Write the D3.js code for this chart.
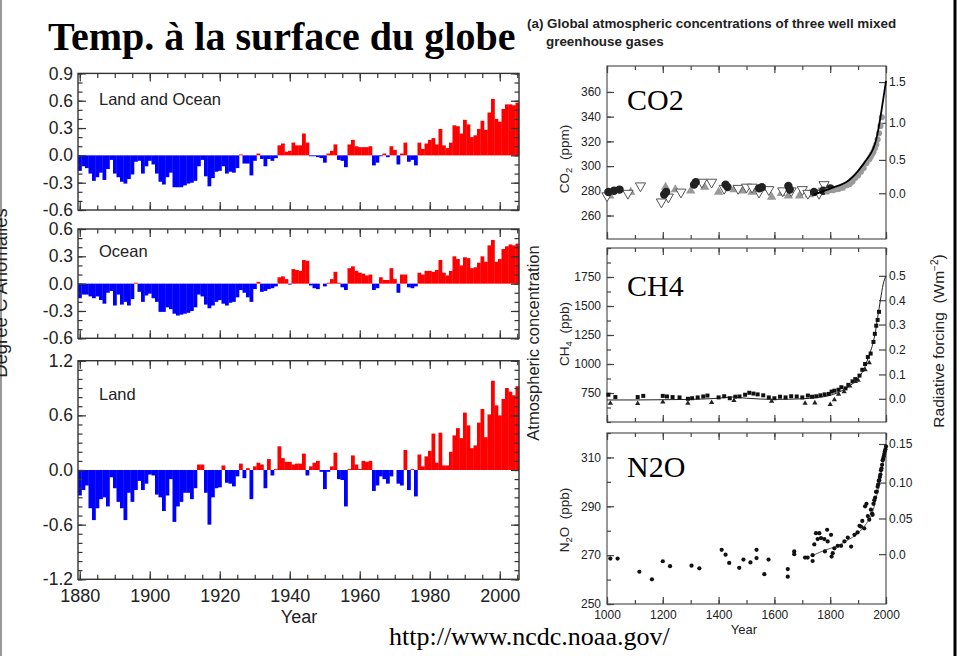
<!DOCTYPE html>
<html>
<head>
<meta charset="utf-8">
<script src="https://cdn.jsdelivr.net/npm/d3@7"></script>
<style>
  body { margin: 0; background: #fff; }
  svg { display: block; font-family: "Liberation Sans", Arial, sans-serif; }
  .serif { font-family: "Liberation Serif", "Times New Roman", serif; }
</style>
</head>
<body>
<div id="chart"></div>
<script>
// ---- temperature anomalies (deg C), one value per year 1880..2005
var years = d3.range(1880, 2006);

var landOcean = [
  -0.17,-0.12,-0.14,-0.20,-0.28,-0.24,-0.19,-0.27,-0.15,-0.05,
  -0.20,-0.24,-0.29,-0.31,-0.26,-0.21,-0.07,-0.06,-0.20,-0.12,
  -0.06,-0.10,-0.20,-0.29,-0.32,-0.24,-0.19,-0.35,-0.35,-0.35,
  -0.33,-0.31,-0.30,-0.28,-0.12,-0.05,-0.23,-0.34,-0.25,-0.18,
  -0.17,-0.12,-0.20,-0.18,-0.19,-0.14,0.01,-0.09,-0.09,-0.22,
  -0.06,0.02,-0.04,-0.12,-0.04,-0.06,-0.03,0.11,0.13,0.04,
  0.05,0.14,0.11,0.11,0.24,0.14,-0.01,-0.01,-0.02,-0.03,
  -0.08,0.02,0.05,0.12,-0.05,-0.06,-0.13,0.12,0.17,0.10,
  0.09,0.09,0.09,0.10,-0.11,-0.08,-0.01,0.02,-0.02,0.10,
  0.06,-0.10,0.02,0.14,-0.07,-0.05,-0.11,0.14,0.07,0.13,
  0.17,0.19,0.12,0.29,0.11,0.08,0.14,0.33,0.32,0.24,
  0.39,0.34,0.20,0.22,0.29,0.38,0.28,0.47,0.62,0.40,
  0.37,0.51,0.56,0.56,0.55,0.58
];

var ocean = [
  -0.16,-0.12,-0.12,-0.14,-0.16,-0.14,-0.18,-0.22,-0.10,-0.08,
  -0.24,-0.12,-0.23,-0.20,-0.24,-0.17,0.01,-0.09,-0.20,-0.13,
  -0.11,-0.16,-0.20,-0.31,-0.31,-0.26,-0.28,-0.33,-0.35,-0.34,
  -0.33,-0.32,-0.30,-0.26,-0.12,-0.14,-0.23,-0.27,-0.24,-0.20,
  -0.18,-0.22,-0.24,-0.21,-0.20,-0.15,-0.07,-0.10,-0.15,-0.20,
  -0.06,0.02,-0.09,-0.08,-0.06,-0.05,-0.03,0.07,0.08,0.05,
  -0.01,0.16,0.15,0.14,0.26,0.25,-0.02,-0.05,-0.06,0.00,
  -0.03,0.01,0.05,0.13,0.01,-0.04,-0.07,0.17,0.19,0.14,
  0.12,0.11,0.09,0.10,-0.07,-0.05,0.07,0.04,0.04,0.17,
  0.05,-0.10,0.10,0.10,-0.04,-0.05,-0.03,0.12,0.10,0.14,
  0.14,0.13,0.15,0.26,0.12,0.09,0.14,0.30,0.27,0.20,
  0.29,0.28,0.17,0.18,0.23,0.30,0.24,0.42,0.48,0.24,
  0.27,0.38,0.41,0.43,0.42,0.44
];

var land = [
  -0.28,-0.22,-0.17,-0.42,-0.55,-0.42,-0.32,-0.30,-0.40,-0.08,
  -0.20,-0.35,-0.42,-0.55,-0.25,-0.35,-0.22,-0.12,-0.22,-0.15,
  -0.05,-0.06,-0.27,-0.30,-0.45,-0.28,-0.10,-0.57,-0.40,-0.35,
  -0.25,-0.25,-0.32,-0.20,0.06,0.06,-0.25,-0.60,-0.30,-0.20,
  -0.19,0.05,-0.14,-0.15,-0.18,-0.07,0.07,-0.09,0.02,-0.32,
  0.04,0.08,0.06,-0.20,0.12,-0.06,0.01,0.26,0.13,0.09,
  0.09,0.06,0.07,0.07,0.18,-0.06,0.04,0.08,0.10,-0.02,
  -0.21,-0.02,0.04,0.19,-0.10,-0.11,-0.40,0.01,0.16,0.06,
  0.01,0.10,0.09,0.10,-0.23,-0.17,-0.07,-0.10,-0.15,-0.07,
  0.00,-0.15,-0.17,0.22,-0.22,0.01,-0.29,0.17,0.04,0.15,
  0.21,0.40,0.08,0.41,0.05,0.05,0.20,0.38,0.46,0.35,
  0.63,0.49,0.24,0.27,0.52,0.67,0.36,0.61,0.98,0.71,
  0.60,0.78,0.90,0.86,0.82,0.92
];

var loTicks = [-0.6, -0.3, 0.0, 0.3, 0.6, 0.9];
var oceanTicks = [-0.6, -0.3, 0.0, 0.3, 0.6];
var landTicks = [-1.2, -0.6, 0.0, 0.6, 1.2];
var yearTicks = [1880, 1900, 1920, 1940, 1960, 1980, 2000];

// ---- greenhouse gases, [year, concentration]
var co2Ticks = [260, 280, 300, 320, 340, 360];
var co2Forcing = [0.0, 0.5, 1.0, 1.5];
var co2ForcingAt = [278, 305, 335, 368];
var co2Dark = [[1005,279],[1025,280],[1045,281],[1205,277],[1212,279],[1312,285],[1318,287],[1425,285],[1432,283],
  [1545,282],[1555,283],[1650,284],[1655,281],[1742,279],[1775,280],[1800,282]];
var co2GrayTri = [[1010,276],[1085,279],[1210,283],[1245,281],[1300,280],[1350,283],[1400,279],[1455,281],[1485,280],
  [1520,279],[1560,282],[1590,275],[1625,278],[1650,276],[1690,276],[1725,277],[1760,279],[1790,281],[1810,281]];
var co2OpenTri = [[1000,276],[1075,278],[1120,284],[1195,271],[1220,275],[1265,279],[1340,287],[1375,287],[1420,282],
  [1470,282],[1500,283],[1520,283],[1545,279],[1580,281],[1630,280],[1660,280],[1700,281],[1720,278],[1760,278],[1778,285]];
var co2Gray = [[1790,281],[1810,282],[1830,283],[1845,284],[1860,286],[1870,287],[1880,289],[1890,292],[1900,294],
  [1910,297],[1920,300],[1930,304],[1940,307],[1945,309],[1950,311],[1955,313],[1960,316],[1965,319],[1970,323],
  [1975,328],[1980,334],[1985,341]];
var co2Line = [[1740,277],[1770,279],[1800,282],[1830,284],[1860,287],[1880,291],[1900,296],[1920,302],[1940,308],
  [1950,312],[1960,317],[1970,326],[1980,339],[1990,354],[2000,369]];

var ch4Ticks = [750, 1000, 1250, 1500, 1750];
var ch4Forcing = [0.0, 0.1, 0.2, 0.3, 0.4, 0.5];
var ch4ForcingAt = [700, 910, 1125, 1340, 1550, 1760];
var ch4Squares = [[1005,735],[1030,715],[1110,715],[1130,725],[1200,725],[1215,720],[1235,715],[1260,712],[1290,700],
  [1305,705],[1325,712],[1345,720],[1360,728],[1400,712],[1420,722],[1440,705],[1460,718],[1475,720],[1495,735],
  [1510,752],[1525,745],[1540,738],[1560,730],[1580,712],[1600,705],[1620,718],[1640,712],[1660,722],[1680,720],
  [1700,712],[1720,728],[1735,718],[1750,722],[1765,730],[1780,738],[1795,742],[1805,762],[1815,770],[1830,778],
  [1840,800],[1855,790],[1865,820],[1880,850],[1890,870],[1905,900],[1915,950],[1925,1000],[1935,1060],[1945,1090],
  [1955,1190],[1960,1260],[1965,1330],[1970,1380],[1975,1450]];
var ch4Tri = [[1012,662],[1110,660],[1200,672],[1290,662],[1375,668],[1455,685],[1590,678],[1710,662],[1745,665],
  [1800,650],[1815,692],[1830,740],[1850,760],[1870,810],[1890,850],[1900,860],[1925,950],[1940,1010]];
var ch4Line = [[1000,690],[1100,690],[1200,692],[1300,695],[1400,705],[1450,715],[1500,705],[1600,695],[1700,700],
  [1750,710],[1800,730],[1850,780],[1880,830],[1900,880],[1920,950],[1940,1080],[1950,1150],[1960,1250],
  [1970,1400],[1980,1550],[1990,1690],[2000,1760]];

var n2oTicks = [250, 270, 290, 310];
var n2oForcing = [0.0, 0.05, 0.10, 0.15];
var n2oForcingLabels = ['0.0', '0.05', '0.10', '0.15'];
var n2oForcingAt = [270.4, 285, 299.7, 315.5];
var n2oDots = [[1012,268.6],[1038,268.6],[1116,263.2],[1161,260.1],[1200,267.5],[1226,265.5],[1303,265.7],[1331,264.6],
  [1411,272.2],[1425,270.2],[1438,266.8],[1474,264.8],[1489,268.2],[1514,267],[1536,272.2],[1536,268.8],[1564,262.2],
  [1579,268.2],[1648,264.3],[1648,261.2],[1671,271.5],[1671,270.4],[1710,269],[1719,269],[1737,270],[1737,267.6],
  [1743,274.4],[1749,279],[1755,276.6],[1761,279],[1767,277],[1779,276.6],[1781,271.5],[1789,280.4],[1791,275.6],
  [1803,278.3],[1805,269.4],[1809,270.8],[1815,272.8],[1827,273.8],[1839,273.8],[1851,275.6],[1863,277.2],[1875,273.5],
  [1887,278.3],[1898,279.3],[1905,282],[1910,281.7],[1915,284],[1922,281],[1925,290],[1930,291],[1935,286],[1940,284.5],
  [1946,288.6],[1950,287],[1952,286.5],[1955,291],[1958,292.5],[1961,293.5],[1964,295.9],[1967,296],[1970,298],
  [1972,299],[1974,300.5],[1976,300.7],[1978,302],[1980,303],[1982,304.8],[1984,305.5],[1986,307],[1988,308.8],
  [1990,309.5],[1992,310.5],[1994,311.5],[1996,312.5],[1998,313.3],[2000,314.5]];
var n2oLine = [[1740,270],[1780,272],[1820,273.5],[1860,276],[1900,279],[1930,283],[1950,287],[1970,296],[1990,308],[2000,314]];

var gasYearTicks = [1000, 1200, 1400, 1600, 1800, 2000];

// ------------------------------------------------------------------
var svg = d3.select('#chart').append('svg')
  .attr('width', 960)
  .attr('height', 656);

svg.append('rect').attr('width', 960).attr('height', 656).attr('fill', '#fff');

// slide borders
svg.append('line').attr('x1', 1).attr('x2', 1).attr('y1', 0).attr('y2', 656)
  .attr('stroke', '#777').attr('stroke-width', 1.5);
svg.append('line').attr('x1', 955).attr('x2', 955).attr('y1', 0).attr('y2', 656)
  .attr('stroke', '#000').attr('stroke-width', 3);

svg.append('text').attr('class', 'serif')
  .attr('x', 48).attr('y', 50)
  .style('font-size', '40px').style('font-weight', 'bold')
  .text('Temp. à la surface du globe');

function styleAxis(g, size, color) {
  g.select('.domain').remove();
  g.selectAll('line').attr('stroke', color).attr('stroke-width', 1.2);
  g.selectAll('text').style('font-size', size).attr('fill', '#222')
    .style('font-family', '"Liberation Sans", Arial, sans-serif');
}

// ---- left: temperature bar panels
var xL = d3.scaleLinear().domain([1879.5, 2005.5]).range([78, 519]);
var barW = xL(1881) - xL(1880);

var tempPanels = [
  { values: landOcean, domain: [-0.6, 0.9], range: [210, 73.4], ticks: loTicks, name: 'Land and Ocean', nameY: 105 },
  { values: ocean, domain: [-0.6, 0.6], range: [338.3, 229], ticks: oceanTicks, name: 'Ocean', nameY: 257 },
  { values: land, domain: [-1.2, 1.2], range: [579.3, 360.7], ticks: landTicks, name: 'Land', nameY: 400 }
];

tempPanels.forEach(function(p, k) {
  var y = d3.scaleLinear().domain(p.domain).range(p.range);
  var g = svg.append('g');
  var top = p.range[1], bottom = p.range[0];

  g.selectAll('rect.bar')
    .data(p.values)
    .enter()
    .append('rect')
    .attr('class', 'bar')
    .attr('x', function(d, i) { return xL(years[i] - 0.5); })
    .attr('width', barW + 0.3)
    .attr('y', d => y(Math.max(0, d)))
    .attr('height', d => Math.abs(y(d) - y(0)))
    .attr('fill', d => d >= 0 ? '#ff0000' : '#0000ff');

  var minorY = d3.range(Math.round(p.domain[0] * 10), Math.round(p.domain[1] * 10) + 1).map(d => d / 10);
  var minorX = d3.range(1880, 2006, 5);

  // inward ticks on every side
  g.append('g').attr('transform', 'translate(78,0)')
    .call(d3.axisLeft(y).tickValues(minorY).tickSize(-4.5).tickFormat(''))
    .call(styleAxis, '17px', '#333');
  g.append('g').attr('transform', 'translate(519,0)')
    .call(d3.axisRight(y).tickValues(minorY).tickSize(-4.5).tickFormat(''))
    .call(styleAxis, '17px', '#333');
  g.append('g').attr('transform', 'translate(519,0)')
    .call(d3.axisRight(y).tickValues(p.ticks).tickSize(-8).tickFormat(''))
    .call(styleAxis, '17px', '#333');
  g.append('g').attr('transform', 'translate(78,0)')
    .call(d3.axisLeft(y).tickValues(p.ticks).tickSize(-8).tickPadding(5).tickFormat(d => d.toFixed(1)))
    .call(styleAxis, '17.5px', '#333');

  g.append('g').attr('transform', 'translate(0,' + top + ')')
    .call(d3.axisTop(xL).tickValues(minorX).tickSize(-4.5).tickFormat(''))
    .call(styleAxis, '18px', '#333');
  g.append('g').attr('transform', 'translate(0,' + top + ')')
    .call(d3.axisTop(xL).tickValues(yearTicks).tickSize(-8).tickFormat(''))
    .call(styleAxis, '18px', '#333');
  g.append('g').attr('transform', 'translate(0,' + bottom + ')')
    .call(d3.axisBottom(xL).tickValues(minorX).tickSize(-4.5).tickFormat(''))
    .call(styleAxis, '18px', '#333');
  g.append('g').attr('transform', 'translate(0,' + bottom + ')')
    .call(d3.axisBottom(xL).tickValues(yearTicks).tickSize(-8).tickPadding(10)
      .tickFormat(k === 2 ? d3.format('d') : ''))
    .call(styleAxis, '18px', '#333');

  g.append('rect')
    .attr('x', 78).attr('y', top)
    .attr('width', 441).attr('height', bottom - top)
    .attr('fill', 'none').attr('stroke', '#333').attr('stroke-width', 1.4);

  g.append('text')
    .attr('x', 99).attr('y', p.nameY)
    .style('font-size', '16.5px').attr('fill', '#222')
    .text(p.name);
});

svg.append('text')
  .attr('x', 299).attr('y', 623)
  .attr('text-anchor', 'middle')
  .style('font-size', '18px').attr('fill', '#222')
  .text('Year');

// cut by the slide edge in the original as well
svg.append('text')
  .attr('transform', 'translate(7,293) rotate(-90)')
  .attr('text-anchor', 'middle')
  .style('font-size', '18.5px').attr('fill', '#222')
  .text('Degree C Anomalies');

// ---- right: greenhouse gas panels
svg.append('text')
  .attr('x', 527).attr('y', 28)
  .style('font-size', '13.4px').style('font-weight', 'bold').attr('fill', '#222')
  .text('(a) Global atmospheric concentrations of three well mixed');
svg.append('text')
  .attr('x', 546).attr('y', 46)
  .style('font-size', '13.4px').style('font-weight', 'bold').attr('fill', '#222')
  .text('greenhouse gases');

var xR = d3.scaleLinear().domain([1000, 2000]).range([607, 886]);

var gasPanels = [
  { gas: 'CO2', sub: ['CO', '2', '  (ppm)'], domain: [241, 381], range: [239, 66], ticks: co2Ticks, minor: co2Ticks,
    forcing: co2Forcing, forcingAt: co2ForcingAt, forcingLabels: co2Forcing.map(d => d.toFixed(1)), nameY: 110, labelY: 159 },
  { gas: 'CH4', sub: ['CH', '4', '  (ppb)'], domain: [500, 2000], range: [422, 248], ticks: ch4Ticks, minor: d3.range(500, 2001, 125),
    forcing: ch4Forcing, forcingAt: ch4ForcingAt, forcingLabels: ch4Forcing.map(d => d.toFixed(1)), nameY: 296, labelY: 334 },
  { gas: 'N2O', sub: ['N', '2', 'O  (ppb)'], domain: [250, 320], range: [604, 433], ticks: n2oTicks, minor: d3.range(250, 321, 10),
    forcing: n2oForcing, forcingAt: n2oForcingAt, forcingLabels: n2oForcingLabels, nameY: 477, labelY: 520 }
];

var gasScales = {};

gasPanels.forEach(function(p, k) {
  var y = d3.scaleLinear().domain(p.domain).range(p.range);
  gasScales[p.gas] = y;
  var top = p.range[1], bottom = p.range[0];
  var g = svg.append('g');
  var rf = d3.scaleLinear().domain(p.forcing).range(p.forcingAt.map(y));

  g.append('rect')
    .attr('x', 607).attr('y', top)
    .attr('width', 279).attr('height', bottom - top)
    .attr('fill', 'none').attr('stroke', '#444').attr('stroke-width', 1.1);

  g.append('g').attr('transform', 'translate(607,0)')
    .call(d3.axisLeft(y).tickValues(p.minor).tickSize(-4).tickFormat(''))
    .call(styleAxis, '12px', '#444');
  g.append('g').attr('transform', 'translate(607,0)')
    .call(d3.axisLeft(y).tickValues(p.ticks).tickSize(-7).tickPadding(6).tickFormat(d3.format('d')))
    .call(styleAxis, '12px', '#444');
  g.append('g').attr('transform', 'translate(886,0)')
    .call(d3.axisRight(rf).tickValues(p.forcing).tickSize(-7).tickPadding(3)
      .tickFormat((d, i) => p.forcingLabels[i]))
    .call(styleAxis, '12px', '#444');

  var minorX = d3.range(1000, 2001, 100);
  [top, bottom].forEach(function(edge, j) {
    var ax = j === 0 ? d3.axisTop : d3.axisBottom;
    g.append('g').attr('transform', 'translate(0,' + edge + ')')
      .call(ax(xR).tickValues(minorX).tickSize(-4).tickFormat(''))
      .call(styleAxis, '12px', '#444');
    g.append('g').attr('transform', 'translate(0,' + edge + ')')
      .call(ax(xR).tickValues(gasYearTicks).tickSize(-7).tickPadding(6.5)
        .tickFormat(j === 1 && k === 2 ? d3.format('d') : ''))
      .call(styleAxis, '12px', '#444');
  });

  g.append('text').attr('class', 'serif')
    .attr('x', 627).attr('y', p.nameY)
    .style('font-size', '30px').attr('fill', '#000')
    .text(p.gas);

  var lab = g.append('text')
    .attr('transform', 'translate(569,' + p.labelY + ') rotate(-90)')
    .attr('text-anchor', 'middle')
    .style('font-size', '13.5px').style('white-space', 'pre').attr('fill', '#222');
  lab.append('tspan').text(p.sub[0]);
  lab.append('tspan').attr('dy', 3).style('font-size', '9.5px').text(p.sub[1]);
  lab.append('tspan').attr('dy', -3).text(p.sub[2]);
});

function sym(type, size) { return d3.symbol().type(type).size(size)(); }

// CO2 markers
var yC = gasScales.CO2;
svg.append('g').selectAll('path').data(co2GrayTri).enter().append('path')
  .attr('d', sym(d3.symbolTriangle, 38))
  .attr('transform', d => 'translate(' + xR(d[0]) + ',' + yC(d[1]) + ')')
  .attr('fill', '#999');
svg.append('g').selectAll('path').data(co2OpenTri).enter().append('path')
  .attr('d', sym(d3.symbolTriangle, 45))
  .attr('transform', d => 'translate(' + xR(d[0]) + ',' + yC(d[1]) + ') rotate(180)')
  .attr('fill', '#fff').attr('stroke', '#555').attr('stroke-width', 1);
svg.append('g').selectAll('path').data(co2Dark).enter().append('path')
  .attr('d', sym(d3.symbolCircle, 55))
  .attr('transform', d => 'translate(' + xR(d[0]) + ',' + yC(d[1]) + ')')
  .attr('fill', '#222');
svg.append('g').selectAll('path').data(co2Gray).enter().append('path')
  .attr('d', sym(d3.symbolCircle, 30))
  .attr('transform', d => 'translate(' + xR(d[0]) + ',' + yC(d[1] - 1.5) + ')')
  .attr('fill', '#9a9a9a');
svg.append('path').datum(co2Line)
  .attr('d', d3.line().x(d => xR(d[0])).y(d => yC(d[1])).curve(d3.curveBasis))
  .attr('fill', 'none').attr('stroke', '#000').attr('stroke-width', 1.8);

// CH4 markers
var yM = gasScales.CH4;
svg.append('path').datum(ch4Line)
  .attr('d', d3.line().x(d => xR(d[0])).y(d => yM(d[1])).curve(d3.curveMonotoneX))
  .attr('fill', 'none').attr('stroke', '#222').attr('stroke-width', 1);
svg.append('g').selectAll('path').data(ch4Squares).enter().append('path')
  .attr('d', sym(d3.symbolSquare, 16))
  .attr('transform', d => 'translate(' + xR(d[0]) + ',' + yM(d[1]) + ')')
  .attr('fill', '#111');
svg.append('g').selectAll('path').data(ch4Tri).enter().append('path')
  .attr('d', sym(d3.symbolTriangle, 12))
  .attr('transform', d => 'translate(' + xR(d[0]) + ',' + yM(d[1]) + ')')
  .attr('fill', '#222');

// N2O markers
var yN = gasScales.N2O;
svg.append('path').datum(n2oLine)
  .attr('d', d3.line().x(d => xR(d[0])).y(d => yN(d[1])).curve(d3.curveMonotoneX))
  .attr('fill', 'none').attr('stroke', '#333').attr('stroke-width', 0.8);
svg.append('g').selectAll('path').data(n2oDots).enter().append('path')
  .attr('d', sym(d3.symbolCircle, 14))
  .attr('transform', d => 'translate(' + xR(d[0]) + ',' + yN(d[1]) + ')')
  .attr('fill', '#111');

svg.append('text')
  .attr('x', 744).attr('y', 634)
  .attr('text-anchor', 'middle')
  .style('font-size', '13px').attr('fill', '#222')
  .text('Year');

svg.append('text')
  .attr('transform', 'translate(539,343) rotate(-90)')
  .attr('text-anchor', 'middle')
  .style('font-size', '16.5px').attr('fill', '#222')
  .text('Atmospheric concentration');

var rfLab = svg.append('text')
  .attr('transform', 'translate(944,341) rotate(-90)')
  .attr('text-anchor', 'middle')
  .style('font-size', '15.5px').style('white-space', 'pre').attr('fill', '#222');
rfLab.append('tspan').text('Radiative forcing  (Wm');
rfLab.append('tspan').attr('dy', -6).style('font-size', '10px').text('−2');
rfLab.append('tspan').attr('dy', 6).text(')');

svg.append('text').attr('class', 'serif')
  .attr('x', 389).attr('y', 645)
  .style('font-size', '26px').attr('fill', '#000')
  .text('http://www.ncdc.noaa.gov/');
</script>
</body>
</html>
